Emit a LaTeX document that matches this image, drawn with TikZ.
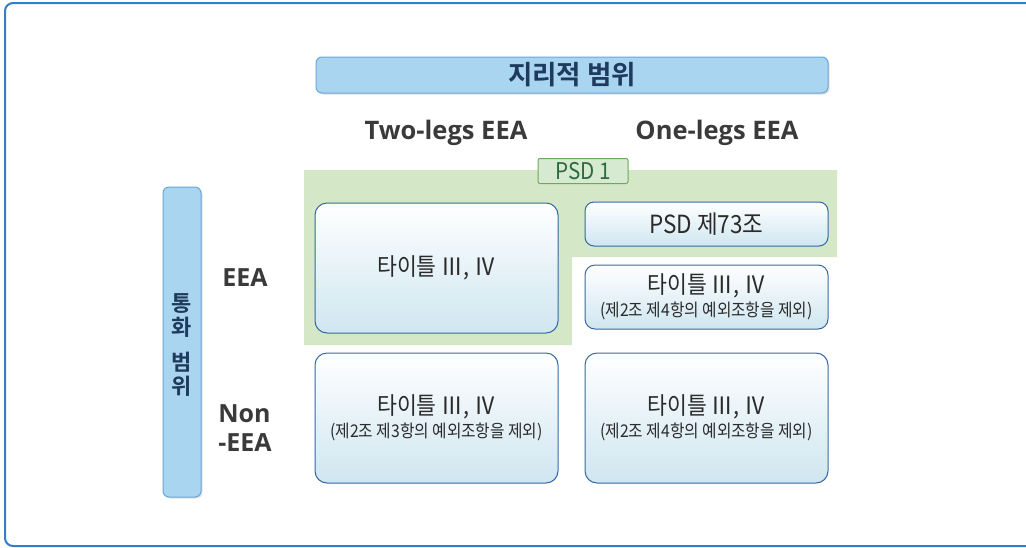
\documentclass[tikz,border=0pt]{standalone}
\usepackage{fontspec}
\setmainfont{Open Sans}
\newfontfamily\kr{Noto Sans CJK KR}[FakeStretch=0.9]
\newfontfamily\krb{Noto Sans CJK KR Bold}
\usetikzlibrary{shadows}
\definecolor{frameblue}{HTML}{2F80C8}
\definecolor{barfill}{HTML}{AAD5F1}
\definecolor{barline}{HTML}{6AA6D8}
\definecolor{navy}{HTML}{1E3A5C}
\definecolor{greenbg}{HTML}{D4E7C7}
\definecolor{tabfill}{HTML}{D6EAD2}
\definecolor{tabline}{HTML}{6FA85A}
\definecolor{tabtext}{HTML}{2D6B3C}
\definecolor{boxline}{HTML}{3567A8}
\definecolor{boxbot}{HTML}{CFE6F0}
\definecolor{txt}{HTML}{2B2B2B}
\definecolor{lbl}{HTML}{3A3A3A}
\tikzset{
  bar/.style={draw=barline, line width=1pt, fill=barfill, rounded corners=6pt,
    drop shadow={shadow xshift=1.5pt, shadow yshift=-1.5pt, opacity=0.25}, inner sep=0pt},
  cell/.style={draw=boxline, line width=1pt, rounded corners=12pt, top color=white,
    bottom color=boxbot, minimum width=243pt, inner sep=0pt, align=center, text=txt},
  hdr/.style={font=\fontsize{25.5}{29}\selectfont\bfseries, text=lbl, inner sep=0pt},
  side/.style={font=\fontsize{25}{29}\selectfont\bfseries, text=lbl, inner sep=0pt, align=left},
}
\newcommand{\maintxt}{\kr\fontsize{24}{27}\selectfont 타이틀 Ⅲ, Ⅳ}
\newcommand{\subtxt}[1]{\kr\fontsize{17.5}{19}\selectfont (제2조 제#1항의 예외조항을 제외)}
\begin{document}
\begin{tikzpicture}[x=1pt, y=-1pt]
\useasboundingbox (0,0) rectangle (1026,547);
\clip (0,0) rectangle (1026,547);
% outer frame
\draw[frameblue, line width=2pt, rounded corners=8pt] (5,3) rectangle (1060,546);
% green PSD1 region
\fill[greenbg] (304,170) -- (837,170) -- (837,257) -- (572,257) -- (572,345) -- (304,345) -- cycle;
% title bar
\node[bar, minimum width=512pt, minimum height=36pt, text=navy,
  font=\krb\fontsize{26.5}{29}\selectfont] (geo) at (572,75) {지리적 범위};
% column headers
\node[hdr] (two) at (446,133) {Two-legs EEA};
\node[hdr] (one) at (717,133) {One-legs EEA};
% PSD 1 tab
\node[draw=tabline, line width=1pt, fill=tabfill, rounded corners=2pt, minimum width=90pt,
  minimum height=25pt, inner sep=0pt, text=tabtext, font=\kr\fontsize{23}{25}\selectfont]
  (psd1) at (583,171) {PSD 1};
% left bar
\node[bar, minimum width=38pt, minimum height=310pt] (cur) at (182,342) {};
\node[text=navy, font=\krb\fontsize{22}{25}\selectfont, align=center, inner sep=0pt]
  (curtxt) at (182,345) {통\\[-1pt]화\\[10pt]범\\[-1pt]위};
% row labels
\node[side] (eea) at (245,278) {EEA};
\node[side] (noneea) at (245,428) {Non\\-EEA};
% cells
\node[cell, minimum height=130pt] (a) at (436.5,268) {\maintxt};
\node[cell, minimum height=44pt, rounded corners=9pt] (b) at (706.5,224)
  {\kr\fontsize{25}{27}\selectfont PSD 제73조};
\node[cell, minimum height=64pt, rounded corners=10pt] (c) at (706.5,297)
  {\maintxt\\[3pt]\subtxt{4}};
\node[cell, minimum height=130pt] (d) at (436.5,418) {\maintxt\\[3pt]\subtxt{3}};
\node[cell, minimum height=130pt] (e) at (706.5,418) {\maintxt\\[3pt]\subtxt{4}};
\end{tikzpicture}
\end{document}
